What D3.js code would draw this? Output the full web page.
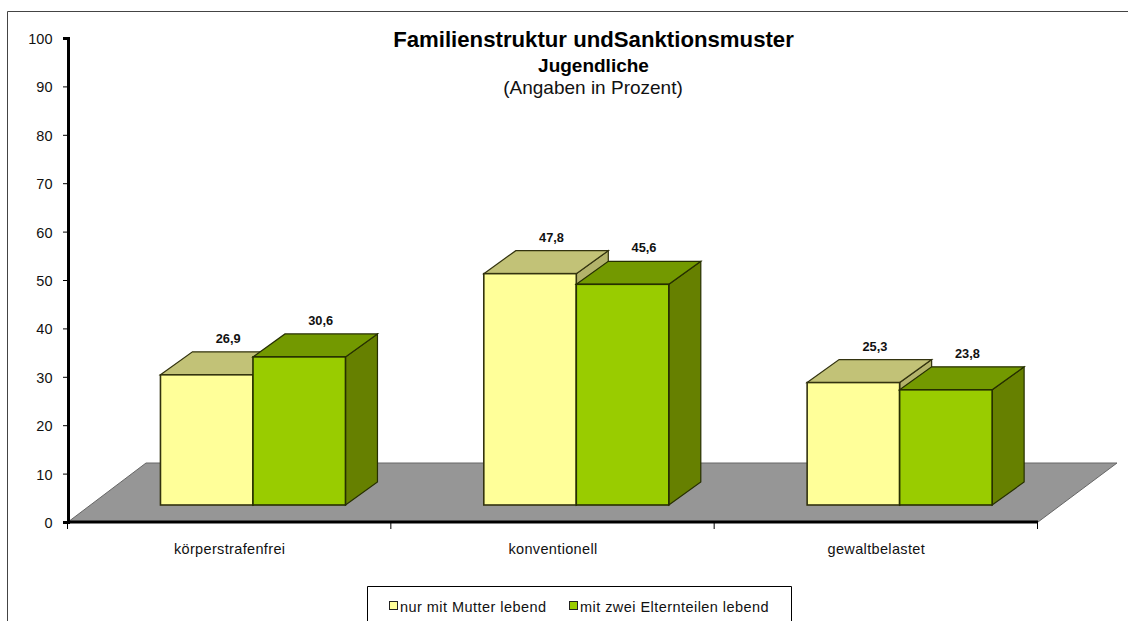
<!DOCTYPE html>
<html><head><meta charset="utf-8">
<script src="https://cdnjs.cloudflare.com/ajax/libs/d3/7.8.5/d3.min.js"></script>
<style>html,body{margin:0;padding:0;background:#fff;overflow:hidden}svg{display:block;font-family:"Liberation Sans",Arial,sans-serif}</style>
</head><body><svg id="c" width="1128" height="621"></svg>
<script>
const categories = ["körperstrafenfrei","konventionell","gewaltbelastet"];
const seriesNames = ["nur mit Mutter lebend","mit zwei Elternteilen lebend"];
const mutter = [26.9,47.8,25.3];
const zwei = [30.6,45.6,23.8];
const labelsMutter = ["26,9","47,8","25,3"];
const labelsZwei = ["30,6","45,6","23,8"];
const yTicks = [0,10,20,30,40,50,60,70,80,90,100];
const titleLines = ["Jugendliche","(Angaben in Prozent)"];

const svg = d3.select("#c");
const W=1128,H=621;
const axisX0=68, axisX1=1038, axisY0=522, axisY1=38;
const depthX=32, depthY=-23, floorLift=17;
const y = d3.scaleLinear().domain([0,100]).range([axisY0,axisY1]);
const x = d3.scaleBand().domain(categories).range([axisX0,axisX1]);
const barW=92.5, groupShift=23.3;
const h = v => y(0)-y(v);

svg.append("path").attr("d",`M7.5,${H}V11.5H${W}`).attr("fill","none").attr("stroke","#444").attr("stroke-width",1);

const fb=axisY0, ft=463;
svg.append("path").attr("d",`M${axisX0},${fb}L146,${ft}H1117L${axisX1},${fb}Z`).attr("fill","#969696").attr("stroke","#666").attr("stroke-width",1);

const ax=svg.append("g").attr("transform",`translate(${axisX0},0)`).call(d3.axisLeft(y).tickValues(yTicks).tickSize(5).tickFormat(d3.format("d")));
ax.select(".domain").attr("stroke","#000").attr("stroke-width",3);
ax.selectAll("text").attr("font-size",14.5).attr("fill","#111").attr("font-family","Liberation Sans").attr("x",-15.5).attr("dy","0.38em");
const xTickPos = x.domain().map(d=>x(d)).concat([axisX1]);
const bx=svg.append("g").attr("transform",`translate(0,${axisY0})`);
bx.append("line").attr("x1",axisX0-1).attr("x2",axisX1).attr("stroke","#000").attr("stroke-width",3);
bx.selectAll("line.t").data(xTickPos).join("line").attr("class","t").attr("x1",d=>d-.5).attr("x2",d=>d-.5).attr("y1",0).attr("y2",7).attr("stroke","#000");
bx.selectAll("text").data(categories).join("text").attr("x",d=>x(d)+x.bandwidth()/2).attr("y",32).attr("text-anchor","middle").attr("font-size",14.5).attr("letter-spacing",0.35).attr("fill","#111").text(d=>d);

const styles=[{front:"#FFFF99",top:"#C2C277",side:"#B3B36B",edge:"#33330f"},{front:"#99CC00",top:"#739900",side:"#668000",edge:"#262f00"}];
const series=[{v:mutter,l:labelsMutter,k:0},{v:zwei,l:labelsZwei,k:1}];
const base=y(0)-floorLift;
series.forEach(s=>{
  const st=styles[s.k];
  const g=svg.append("g");
  categories.forEach((c,i)=>{
    const x0=x(c)+x.bandwidth()/2+groupShift+(s.k-1)*barW;
    const x1=x0+barW;
    const t=base-h(s.v[i]);
    g.append("path").attr("d",`M${x1},${base}L${x1+depthX},${base+depthY}V${t+depthY}L${x1},${t}Z`).attr("fill",st.side).attr("stroke",st.edge).attr("stroke-width",1.2);
    g.append("path").attr("d",`M${x0},${t}L${x0+depthX},${t+depthY}H${x1+depthX}L${x1},${t}Z`).attr("fill",st.top).attr("stroke",st.edge).attr("stroke-width",1.2);
    g.append("rect").attr("x",x0).attr("y",t).attr("width",barW).attr("height",base-t).attr("fill",st.front).attr("stroke",st.edge).attr("stroke-width",1.6);
    svg.append("text").attr("class","vl").datum({x:x0+barW/2+21.5,y:t-32,s:s.l[i]});
  });
});
svg.selectAll("text.vl").each(function(d){
  d3.select(this).attr("x",d.x).attr("y",d.y).attr("text-anchor","middle").attr("font-size",12.8).attr("font-weight","bold").attr("fill","#111").text(d.s).raise();
});

svg.append("text").attr("x",593.5).attr("y",47).attr("text-anchor","middle").attr("font-size",22.2).attr("font-weight","bold").attr("fill","#000").text("Familienstruktur undSanktionsmuster");
svg.append("text").attr("x",593.5).attr("y",72).attr("text-anchor","middle").attr("font-size",19).attr("font-weight","bold").attr("fill","#000").text(titleLines[0]);
svg.append("text").attr("x",593).attr("y",94).attr("text-anchor","middle").attr("font-size",19).attr("fill","#111").text(titleLines[1]);

svg.append("path").attr("d",`M367.5,${H}V586.5H791.5V${H}`).attr("fill","#fff").attr("stroke","#000");
const lx=[389,569];
seriesNames.forEach((n,i)=>{
  svg.append("rect").attr("x",lx[i]+.5).attr("y",601.5).attr("width",8).attr("height",8).attr("fill",styles[i].front).attr("stroke","#222");
  svg.append("text").attr("x",lx[i]+11).attr("y",612).attr("font-size",14.5).attr("letter-spacing",0.45).attr("fill","#111").text(n);
});
</script></body></html>
